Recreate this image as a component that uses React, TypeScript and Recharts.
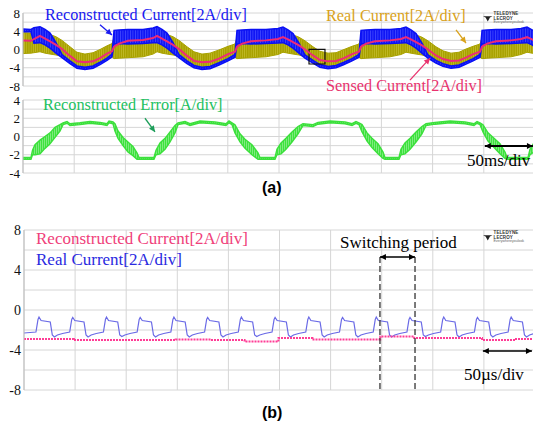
import React from 'react';
import { ComposedChart, Area, Line, XAxis, YAxis, CartesianGrid, ReferenceLine, ReferenceArea } from 'recharts';

const SERIF = "'Liberation Serif', 'Times New Roman', serif";
const SANS = "'Liberation Sans', Arial, sans-serif";
const GRID = '#d6d6d6';

// ---------- (a) upper panel: currents, 50 ms/div ----------
const topTime = [0, 7.8, 10.7, 16.6, 21.5, 26.4, 32.2, 38.1, 45.9, 52.7, 60.5, 68.4, 75.2, 82.0, 86.9, 88.9, 93.8, 102.5, 117.2, 127.0, 130.9, 135.7, 140.6, 146.5, 152.3, 160.2, 167.0, 174.8, 182.6, 191.4, 200.2, 207.0, 209.0, 213.9, 222.7, 237.3, 249.0, 253.9, 258.8, 263.7, 269.5, 275.4, 283.2, 290.0, 297.9, 305.7, 313.5, 321.3, 328.1, 330.1, 335.0, 343.8, 358.4, 369.1, 374.0, 378.9, 383.8, 389.6, 395.5, 403.3, 410.2, 418.0, 425.8, 432.6, 439.5, 446.3, 448.3, 453.1, 461.9, 476.6, 486.3, 492.2, 497.1, 500];
const sensedCurrent = [2.0, 1.9, 2.3, 3.0, 2.4, 1.8, 1.0, 0.1, -1.4, -2.6, -2.8, -2.6, -1.9, -0.9, -0.4, 0.6, 1.3, 1.9, 2.1, 2.5, 3.0, 2.4, 1.8, 1.0, 0.1, -1.4, -2.5, -2.8, -2.7, -2.0, -1.0, -0.5, 0.6, 1.3, 1.8, 2.0, 2.3, 2.7, 2.2, 1.6, 0.9, 0.0, -1.3, -2.3, -2.6, -2.5, -1.9, -1.0, -0.5, 0.6, 1.3, 1.8, 2.0, 2.3, 2.7, 2.2, 1.6, 0.9, 0.0, -1.3, -2.1, -2.5, -2.4, -1.8, -1.0, -0.5, 0.6, 1.3, 1.8, 2.0, 2.3, 2.7, 2.2, 1.9];
const realLow = [-0.9, -0.8, -0.7, -0.5, -0.8, -1.0, -1.2, -1.5, -2.8, -3.8, -3.9, -3.6, -3.0, -2.2, -1.6, -2.0, -1.9, -1.8, -1.6, -1.0, -0.5, -0.8, -1.0, -1.2, -1.5, -2.8, -3.7, -3.9, -3.7, -3.1, -2.3, -1.7, -2.0, -1.9, -1.8, -1.6, -1.1, -0.6, -0.8, -1.0, -1.2, -1.6, -2.7, -3.6, -3.8, -3.6, -3.0, -2.3, -1.7, -2.0, -1.9, -1.8, -1.6, -1.1, -0.6, -0.8, -1.0, -1.2, -1.6, -2.7, -3.4, -3.7, -3.5, -2.9, -2.3, -1.7, -2.0, -1.9, -1.8, -1.6, -1.1, -0.6, -0.8, -0.9];
const realHigh = [3.7, 3.6, 3.8, 3.9, 3.6, 3.3, 2.8, 2.0, 0.6, -0.6, -1.0, -0.7, 0.0, 0.8, 1.3, 2.6, 3.0, 3.2, 3.4, 3.6, 3.9, 3.6, 3.3, 2.8, 2.0, 0.6, -0.5, -1.0, -0.8, -0.1, 0.7, 1.2, 2.6, 3.0, 3.2, 3.4, 3.6, 3.8, 3.5, 3.2, 2.7, 1.9, 0.6, -0.4, -0.8, -0.7, 0.0, 0.7, 1.2, 2.6, 3.0, 3.2, 3.4, 3.6, 3.8, 3.5, 3.2, 2.7, 1.9, 0.6, -0.3, -0.8, -0.6, 0.1, 0.7, 1.2, 2.6, 3.0, 3.2, 3.4, 3.6, 3.8, 3.5, 3.4];
const reconLow = [3.9, 3.9, 1.4, 1.5, 1.0, 0.3, -0.8, -1.8, -3.1, -4.1, -4.4, -4.1, -3.3, -2.4, -1.6, 1.2, 1.3, 1.2, 1.3, 1.5, 1.5, 1.0, 0.3, -0.8, -1.8, -3.1, -4.0, -4.4, -4.2, -3.4, -2.5, -1.7, 1.2, 1.3, 1.2, 1.3, 1.4, 1.5, 1.0, 0.3, -0.8, -1.9, -3.0, -3.9, -4.2, -4.0, -3.3, -2.5, -1.7, 1.2, 1.3, 1.2, 1.3, 1.4, 1.5, 1.0, 0.3, -0.8, -1.9, -3.0, -3.7, -4.1, -3.9, -3.2, -2.5, -1.7, 1.2, 1.3, 1.2, 1.3, 1.4, 1.5, 1.0, 0.6];
const reconHigh = [4.5, 4.4, 4.8, 5.0, 4.4, 3.6, 1.5, -1.1, -2.5, -3.6, -3.9, -3.6, -2.8, -1.9, -1.0, 4.2, 4.3, 4.4, 4.4, 4.7, 5.0, 4.4, 3.6, 1.5, -1.1, -2.5, -3.5, -3.9, -3.7, -2.9, -2.0, -1.1, 4.2, 4.3, 4.4, 4.4, 4.6, 4.9, 4.3, 3.5, 1.4, -1.2, -2.4, -3.3, -3.7, -3.5, -2.8, -2.0, -1.1, 4.2, 4.3, 4.4, 4.4, 4.6, 4.9, 4.3, 3.5, 1.4, -1.2, -2.4, -3.1, -3.6, -3.4, -2.7, -2.0, -1.1, 4.2, 4.3, 4.4, 4.4, 4.6, 4.9, 4.3, 3.9];

// ---------- (a) lower panel: reconstruction error ----------
const errTime = [0, 7.8, 9.3, 11.7, 16.6, 21.5, 26.4, 31.3, 36.1, 39.1, 43.0, 45.9, 55.7, 65.4, 75.2, 82.0, 84.0, 87.9, 89.8, 92.8, 97.7, 102.5, 107.4, 111.3, 113.3, 127.9, 129.9, 133.8, 138.7, 143.6, 148.4, 151.4, 158.2, 163.1, 172.9, 187.5, 198.2, 201.2, 204.1, 207.0, 211.9, 216.8, 223.6, 229.5, 231.4, 246.1, 248.0, 252.0, 256.8, 262.7, 268.6, 273.4, 283.2, 288.1, 299.8, 314.5, 321.3, 325.2, 328.1, 331.1, 336.0, 340.8, 346.7, 351.6, 353.5, 367.2, 369.1, 373.0, 378.0, 383.8, 389.6, 393.6, 402.3, 417.0, 431.7, 440.4, 443.4, 446.3, 449.2, 454.1, 460.0, 465.8, 470.7, 472.7, 493.2, 495.1, 500];
const errLow = [-2.5, -2.5, -2.0, -2.0, -1.9, -1.3, -0.8, -0.1, 0.6, 1.3, 1.45, 1.2, 1.3, 1.45, 1.35, 1.2, 1.5, 1.4, 0.6, -0.2, -1.0, -1.7, -2.1, -2.5, -2.5, -2.5, -2.0, -1.9, -1.4, -0.6, 0.4, 1.3, 1.45, 1.2, 1.5, 1.4, 1.2, 1.5, 1.3, 0.4, -0.6, -1.3, -2.0, -2.5, -2.5, -2.5, -2.0, -1.9, -1.4, -0.6, 0.3, 1.2, 1.1, 1.35, 1.5, 1.4, 1.2, 1.45, 1.3, 0.5, -0.5, -1.2, -1.9, -2.4, -2.5, -2.5, -2.0, -1.9, -1.4, -0.6, 0.3, 1.2, 1.35, 1.5, 1.4, 1.2, 1.45, 1.3, 0.5, -0.5, -1.2, -1.9, -2.4, -2.5, -2.5, -2.0, -1.6];
const errHigh = [-2.3, -2.3, -1.5, -0.9, -0.4, 0.0, 0.4, 1.0, 1.3, 1.5, 1.65, 1.4, 1.5, 1.65, 1.55, 1.4, 1.7, 1.6, 1.4, 0.6, -0.1, -0.6, -1.1, -1.8, -2.3, -2.3, -1.5, -0.7, -0.2, 0.5, 1.2, 1.5, 1.65, 1.4, 1.7, 1.6, 1.4, 1.7, 1.5, 1.3, 0.3, -0.3, -0.9, -1.8, -2.3, -2.3, -1.4, -0.7, -0.2, 0.5, 1.1, 1.4, 1.3, 1.55, 1.7, 1.6, 1.4, 1.65, 1.5, 1.3, 0.4, -0.2, -0.8, -1.7, -2.3, -2.3, -1.4, -0.7, -0.2, 0.5, 1.1, 1.4, 1.55, 1.7, 1.6, 1.4, 1.65, 1.5, 1.3, 0.4, -0.2, -0.8, -1.7, -2.3, -2.3, -1.4, -0.5];

// ---------- (b) panel: 50 us/div ----------
const realTime = [0,
  11.7, 13.7, 14.7, 16.7, 25.7, 27.7, 29.7, 32.7, 37.7,
  44.7, 46.7, 47.7, 49.7, 58.7, 60.7, 62.7, 65.7, 70.7,
  77.7, 79.7, 80.7, 82.7, 91.7, 93.7, 95.7, 98.7, 103.7,
  110.7, 112.7, 113.7, 115.7, 124.7, 126.7, 128.7, 131.7, 136.7,
  143.7, 145.7, 146.7, 148.7, 157.7, 159.7, 161.7, 164.7, 169.7,
  176.7, 178.7, 179.7, 181.7, 190.7, 192.7, 194.7, 197.7, 202.7,
  209.7, 211.7, 212.7, 214.7, 223.7, 225.7, 227.7, 230.7, 235.7,
  242.7, 244.7, 245.7, 247.7, 256.7, 258.7, 260.7, 263.7, 268.7,
  275.7, 277.7, 278.7, 280.7, 289.7, 291.7, 293.7, 296.7, 301.7,
  308.7, 310.7, 311.7, 313.7, 322.7, 324.7, 326.7, 329.7, 334.7,
  341.7, 343.7, 344.7, 346.7, 355.7, 357.7, 359.7, 362.7, 367.7,
  374.7, 376.7, 377.7, 379.7, 388.7, 390.7, 392.7, 395.7, 400.7,
  407.7, 409.7, 410.7, 412.7, 421.7, 423.7, 425.7, 428.7, 433.7,
  440.7, 442.7, 443.7, 445.7, 454.7, 456.7, 458.7, 461.7, 466.7,
  473.7, 475.7, 476.7, 478.7, 487.7, 489.7, 491.7, 494.7, 499.7, 500];
const realCurrent = [-2.3,
  -2.2, -0.95, -0.7, -1.05, -1.2, -2.5, -2.7, -2.5, -2.35,
  -2.2, -0.95, -0.75, -1.05, -1.2, -2.5, -2.7, -2.5, -2.35,
  -2.2, -0.95, -0.7, -1.05, -1.2, -2.5, -2.65, -2.5, -2.35,
  -2.2, -0.95, -0.75, -1.05, -1.2, -2.5, -2.7, -2.5, -2.35,
  -2.2, -0.95, -0.7, -1.05, -1.2, -2.5, -2.7, -2.5, -2.35,
  -2.2, -0.95, -0.75, -1.05, -1.2, -2.5, -2.7, -2.5, -2.35,
  -2.2, -0.95, -0.7, -1.05, -1.2, -2.5, -2.65, -2.5, -2.35,
  -2.2, -0.95, -0.75, -1.05, -1.2, -2.5, -2.7, -2.5, -2.35,
  -2.2, -0.95, -0.7, -1.05, -1.2, -2.5, -2.7, -2.5, -2.35,
  -2.2, -0.95, -0.75, -1.05, -1.2, -2.5, -2.7, -2.5, -2.35,
  -2.2, -0.95, -0.7, -1.05, -1.2, -2.5, -2.7, -2.5, -2.35,
  -2.2, -0.95, -0.75, -1.05, -1.2, -2.5, -2.65, -2.5, -2.35,
  -2.2, -0.95, -0.7, -1.05, -1.2, -2.5, -2.7, -2.5, -2.35,
  -2.2, -0.95, -0.75, -1.05, -1.2, -2.5, -2.7, -2.5, -2.35,
  -2.2, -0.95, -0.7, -1.05, -1.2, -2.5, -2.7, -2.5, -2.35, -2.35];
const reconTime = [0, 48.8, 148.4, 182.6, 215.8, 249.0, 282.2, 348.6, 381.8, 448.2, 481.4, 500];
const reconCurrent = [-2.9, -3.0, -2.95, -3.0, -3.15, -2.8, -2.95, -2.65, -2.8, -3.0, -2.9, -2.9];

const xTicks = [0, 50, 100, 150, 200, 250, 300, 350, 400, 450, 500];

const topData = topTime.map((t, i) => ({
  t,
  sensed: sensedCurrent[i],
  real: [realLow[i], realHigh[i]],
  recon: [reconLow[i], reconHigh[i]],
}));
const errData = errTime.map((t, i) => ({ t, err: [errLow[i], errHigh[i]] }));
const realData = realTime.map((t, i) => ({ t, v: realCurrent[i] }));
const reconData = reconTime.map((t, i) => ({ t, v: reconCurrent[i] }));

const makeArrow = (color: string, sw: number, both: boolean) => (p: any) => {
  const { x1, y1, x2, y2 } = p;
  if ([x1, y1, x2, y2].some((v) => typeof v !== 'number' || isNaN(v))) return <g />;
  const ang = Math.atan2(y2 - y1, x2 - x1);
  const L = 6, W = 3;
  const head = (x: number, y: number, a: number) => {
    const bx = x - L * Math.cos(a), by = y - L * Math.sin(a);
    const px = -Math.sin(a) * W, py = Math.cos(a) * W;
    return `${x},${y} ${bx + px},${by + py} ${bx - px},${by - py}`;
  };
  return (
    <g>
      <line x1={x1} y1={y1} x2={x2} y2={y2} stroke={color} strokeWidth={sw} />
      <polygon points={head(x2, y2, ang)} fill={color} />
      {both && <polygon points={head(x1, y1, ang + Math.PI)} fill={color} />}
    </g>
  );
};

const tickStyle = (size: number) => ({ fontSize: size, fill: '#111', fontFamily: SERIF });
const fmt = (step: number) => (v: number) => (Math.abs(v) % step === 0 ? String(v) : '');

const Label = ({ x, y, size, color, children, bold, family }: any) => (
  <div
    style={{
      position: 'absolute', left: x, top: y, fontSize: size, lineHeight: 1, color,
      fontFamily: family || SERIF, fontWeight: bold ? 700 : 400, whiteSpace: 'nowrap',
    }}
  >
    {children}
  </div>
);

const Logo = ({ x, y }: any) => (
  <div style={{ position: 'absolute', left: x, top: y, display: 'flex', alignItems: 'center', gap: 1 }}>
    <svg width="11" height="7" viewBox="0 0 11 7">
      <polygon points="0,1 11,1 8,2.4 5.5,7 3,2.4" fill="#222" />
    </svg>
    <div style={{ fontFamily: SANS, lineHeight: 1 }}>
      <div style={{ fontSize: 4.5, fontWeight: 700, color: '#333', letterSpacing: 0.1 }}>TELEDYNE LECROY</div>
      <div style={{ fontSize: 3.5, color: '#666' }}>Everywhereyoulook</div>
    </div>
  </div>
);

const Patterns = () => (
  <svg width={0} height={0} style={{ position: 'absolute' }}>
    <defs>
      <pattern id="hatchBlue" width="2.5" height="6" patternUnits="userSpaceOnUse">
        <rect width="2.5" height="6" fill="#1016f4" />
        <rect width="0.8" height="6" fill="#4048ff" />
      </pattern>
      <pattern id="hatchOlive" width="2.2" height="6" patternUnits="userSpaceOnUse">
        <rect width="2.2" height="6" fill="#a8a100" />
        <rect width="0.7" height="6" fill="#c2bb2a" />
      </pattern>
      <pattern id="hatchGreen" width="2" height="6" patternUnits="userSpaceOnUse">
        <rect width="2" height="6" fill="#3ee23e" />
        <rect width="0.7" height="6" fill="#9af09a" />
      </pattern>
    </defs>
  </svg>
);

export default function App() {
  return (
    <div style={{ position: 'fixed', left: 0, top: 0, width: 533, height: 424, overflow: 'hidden', background: '#fff' }}>
      <Patterns />
      {/* (a) upper */}
      <div style={{ position: 'absolute', left: 0, top: 0 }}>
        <ComposedChart width={545} height={94} data={topData} margin={{ top: 13, right: 10, bottom: 8, left: 0 }}>
          <CartesianGrid stroke={GRID} strokeWidth={1} />
          <XAxis type="number" dataKey="t" domain={[0, 500]} ticks={xTicks} hide allowDataOverflow />
          <YAxis type="number" domain={[-8, 8]} ticks={[-8, -6, -4, -2, 0, 2, 4, 6, 8]} tickFormatter={fmt(4)}
            width={23} tickSize={0} tickMargin={3} tickLine={false} axisLine={{ stroke: '#bbb' }} tick={tickStyle(13)} interval={0} />
          <Area type="linear" dataKey="real" stroke="#a9a200" strokeWidth={1} fill="url(#hatchOlive)" fillOpacity={1} isAnimationActive={false} />
          <Area type="linear" dataKey="recon" stroke="#0a10f5" strokeWidth={1.5} fill="url(#hatchBlue)" fillOpacity={1} isAnimationActive={false} />
          <Line type="linear" dataKey="sensed" stroke="#ee2a78" strokeWidth={2} dot={false} isAnimationActive={false} />
          <ReferenceArea x1={279.3} x2={294.9} y1={-3.18} y2={0.04} stroke="#111" strokeWidth={1.2} fill="none" ifOverflow="visible" />
          <ReferenceLine segment={[{ x: 75.2, y: 5.4 }, { x: 86.9, y: 3.2 }]} ifOverflow="visible" shape={makeArrow('#1a1af0', 1.3, false)} />
          <ReferenceLine segment={[{ x: 422.9, y: 4.3 }, { x: 432.6, y: 1.4 }]} ifOverflow="visible" shape={makeArrow('#d9a21b', 1.3, false)} />
          <ReferenceLine segment={[{ x: 377.9, y: -6.7 }, { x: 397.5, y: -1.9 }]} ifOverflow="visible" shape={makeArrow('#e8336e', 1.3, false)} />
        </ComposedChart>
      </div>
      {/* (a) lower */}
      <div style={{ position: 'absolute', left: 0, top: 90 }}>
        <ComposedChart width={545} height={92} data={errData} margin={{ top: 10, right: 10, bottom: 9, left: 0 }}>
          <CartesianGrid stroke={GRID} strokeWidth={1} />
          <XAxis type="number" dataKey="t" domain={[0, 500]} ticks={xTicks} hide allowDataOverflow />
          <YAxis type="number" domain={[-4, 4]} ticks={[-4, -3, -2, -1, 0, 1, 2, 3, 4]} tickFormatter={fmt(2)}
            width={23} tickSize={0} tickMargin={3} tickLine={false} axisLine={{ stroke: '#bbb' }} tick={tickStyle(13)} interval={0} />
          <Area type="linear" dataKey="err" stroke="#3be03b" strokeWidth={1.4} fill="url(#hatchGreen)" fillOpacity={1} isAnimationActive={false} />
          <ReferenceLine segment={[{ x: 119.1, y: 2.0 }, { x: 128.9, y: 0.5 }]} ifOverflow="visible" shape={makeArrow('#1e9e5a', 1.3, false)} />
          <ReferenceLine segment={[{ x: 451, y: -1.05 }, { x: 498, y: -1.05 }]} ifOverflow="visible" shape={makeArrow('#000', 2, true)} />
        </ComposedChart>
      </div>
      {/* (b) */}
      <div style={{ position: 'absolute', left: 0, top: 220 }}>
        <ComposedChart width={545} height={180} margin={{ top: 10, right: 10, bottom: 10, left: 0 }}>
          <CartesianGrid stroke={GRID} strokeWidth={1} />
          <XAxis type="number" dataKey="t" domain={[0, 500]} ticks={xTicks} hide allowDataOverflow />
          <YAxis type="number" domain={[-8, 8]} ticks={[-8, -6, -4, -2, 0, 2, 4, 6, 8]} tickFormatter={fmt(4)}
            width={24} tickSize={0} tickMargin={3} tickLine={false} axisLine={{ stroke: '#bbb' }} tick={tickStyle(14)} interval={0} />
          <Line data={realData} type="linear" dataKey="v" stroke="#6a6ae6" strokeWidth={1.2} dot={false} isAnimationActive={false} />
          <Line data={reconData} type="stepAfter" dataKey="v" stroke="#ff3d96" strokeWidth={2} strokeDasharray="2 1" dot={false} isAnimationActive={false} />
          <ReferenceLine segment={[{ x: 348.3, y: 5.3 }, { x: 348.3, y: -8 }]} ifOverflow="visible" stroke="#333" strokeWidth={1.3} strokeDasharray="6 3" />
          <ReferenceLine segment={[{ x: 382.6, y: 5.3 }, { x: 382.6, y: -8 }]} ifOverflow="visible" stroke="#333" strokeWidth={1.3} strokeDasharray="6 3" />
          <ReferenceLine segment={[{ x: 348.3, y: 5.3 }, { x: 382.6, y: 5.3 }]} ifOverflow="visible" shape={makeArrow('#000', 1.6, true)} />
          <ReferenceLine segment={[{ x: 449, y: -4.1 }, { x: 497, y: -4.1 }]} ifOverflow="visible" shape={makeArrow('#000', 1.6, true)} />
        </ComposedChart>
      </div>

      <Label x={45} y={7.3} size={16.2} color="#1a1af0">Reconstructed Current[2A/div]</Label>
      <Label x={326} y={8.3} size={16.3} color="#d9a21b">Real Current[2A/div]</Label>
      <Label x={326} y={78.3} size={16.3} color="#e8336e">Sensed Current[2A/div]</Label>
      <Logo x={483} y={12} />
      <Label x={43} y={97} size={16.3} color="#22c060">Reconstructed Error[A/div]</Label>
      <Label x={467} y={151.6} size={17} color="#000">50ms/div</Label>
      <Label x={262} y={180} size={16} color="#000" bold family={SANS}>(a)</Label>

      <Label x={36} y={230.1} size={17} color="#f0407a">Reconstructed Current[2A/div]</Label>
      <Label x={36} y={250.8} size={17} color="#2a2ae0">Real Current[2A/div]</Label>
      <Label x={340} y={234.1} size={17} color="#000">Switching period</Label>
      <Logo x={483} y={231} />
      <Label x={464} y={365.8} size={17} color="#000">50µs/div</Label>
      <Label x={262} y={405} size={16} color="#000" bold family={SANS}>(b)</Label>
    </div>
  );
}
